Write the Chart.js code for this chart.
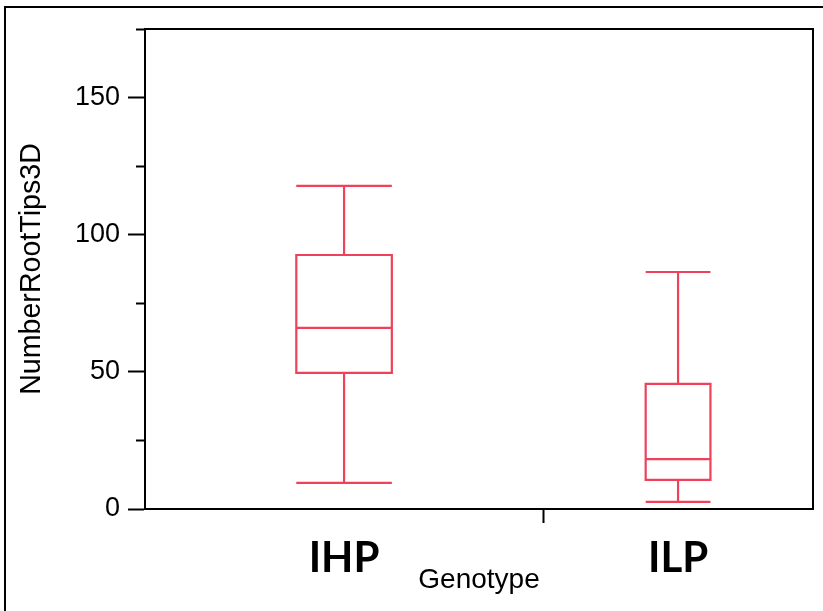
<!DOCTYPE html>
<html>
<head>
<meta charset="utf-8">
<title>NumberRootTips3D by Genotype</title>
<script src="https://cdn.jsdelivr.net/npm/chart.js@4.4.0/dist/chart.umd.min.js"></script>
<style>
  html, body { margin: 0; padding: 0; background: #fff; }
  canvas { display: block; }
</style>
</head>
<body>
<canvas id="boxChart" width="823" height="611"></canvas>
<script>
// box plot data
const genotypes = ['IHP', 'ILP'];
const groupShare = [0.596, 0.404]; // part of the x axis each group gets
const whiskerLow = [9.5, 2.6];
const quartile1 = [49.6, 10.6];
const medians = [66.0, 18.2];
const quartile3 = [92.6, 45.6];
const whiskerHigh = [117.8, 86.4];
const yTickValues = [0, 25, 50, 75, 100, 125, 150, 175];
const yLabelValues = [0, 50, 100, 150];

const boxColor = '#ef4159';
const boxFrac = 0.24;
const helv = 'Liberation Sans, Arial, Helvetica, sans-serif';

// group centres and the divider tick between groups
const groupStart = [];
let acc = 0;
groupShare.forEach(s => { groupStart.push(acc); acc += s; });
const centers = groupShare.map((s, i) => groupStart[i] + s / 2);
const dividers = groupStart.slice(1);
const xTickValues = centers.concat(dividers).sort((a, b) => a - b);

function boxPoints(i) {
  const c = centers[i];
  const half = groupShare[i] * boxFrac / 2;
  const l = c - half, r = c + half;
  const gap = {x: c, y: null};
  return [
    // box
    {x: c, y: quartile1[i]}, {x: r, y: quartile1[i]}, {x: r, y: quartile3[i]},
    {x: l, y: quartile3[i]}, {x: l, y: quartile1[i]}, {x: c, y: quartile1[i]}, gap,
    // median
    {x: l, y: medians[i]}, {x: r, y: medians[i]}, gap,
    // whiskers + caps
    {x: c, y: quartile3[i]}, {x: c, y: whiskerHigh[i]}, gap,
    {x: l, y: whiskerHigh[i]}, {x: r, y: whiskerHigh[i]}, gap,
    {x: c, y: quartile1[i]}, {x: c, y: whiskerLow[i]}, gap,
    {x: l, y: whiskerLow[i]}, {x: r, y: whiskerLow[i]}
  ];
}

const framePlugin = {
  id: 'frame',
  beforeDraw(chart) {
    const ctx = chart.ctx;
    ctx.save();
    ctx.fillStyle = '#fff';
    ctx.fillRect(0, 0, chart.width, chart.height);
    ctx.fillStyle = '#000';
    ctx.fillRect(4, 6, 2, chart.height - 6);
    ctx.fillRect(4, 6, chart.width - 4, 2);
    ctx.restore();
  },
  afterDraw(chart) {
    const {ctx, chartArea: a} = chart;
    ctx.save();
    ctx.strokeStyle = '#000';
    ctx.lineWidth = 2;
    ctx.beginPath();
    ctx.moveTo(a.left, a.top);
    ctx.lineTo(a.right, a.top);
    ctx.lineTo(a.right, a.bottom + 1);
    ctx.stroke();
    ctx.restore();
  }
};

new Chart(document.getElementById('boxChart'), {
  type: 'line',
  data: {
    datasets: genotypes.map((g, i) => ({
      label: g,
      data: boxPoints(i),
      borderColor: boxColor,
      borderWidth: 2.2,
      borderJoinStyle: 'miter',
      pointRadius: 0,
      fill: false,
      tension: 0,
      spanGaps: false
    }))
  },
  options: {
    responsive: false,
    animation: false,
    layout: { padding: {top: 29, right: 10, bottom: 0, left: 0} },
    plugins: { legend: {display: false}, tooltip: {enabled: false} },
    scales: {
      x: {
        type: 'linear',
        min: 0,
        max: 1,
        afterBuildTicks: s => { s.ticks = xTickValues.map(v => ({value: v})); },
        afterFit: s => { s.height = 102; },
        ticks: {
          callback: v => {
            const i = centers.indexOf(v);
            return i >= 0 ? genotypes[i] : '';
          },
          font: {family: 'Lato, Noto Sans, sans-serif', weight: 'bold', size: 42},
          color: '#000',
          padding: 10,
          autoSkip: false,
          maxRotation: 0,
          minRotation: 0
        },
        grid: {
          drawOnChartArea: false,
          tickLength: 14,
          tickWidth: 2,
          tickColor: c => (c.tick && dividers.includes(c.tick.value)) ? '#000' : 'rgba(0,0,0,0)'
        },
        border: {color: '#000', width: 2},
        title: {
          display: true,
          text: 'Genotype',
          color: '#000',
          font: {family: helv, size: 28},
          padding: {top: 0, bottom: 14}
        }
      },
      y: {
        type: 'linear',
        min: 0,
        max: 175,
        afterBuildTicks: s => { s.ticks = yTickValues.map(v => ({value: v})); },
        afterFit: s => { s.width = 145; },
        ticks: {
          callback: v => yLabelValues.includes(v) ? String(v) : '',
          color: '#000',
          font: {family: helv, size: 27},
          padding: 8
        },
        grid: {
          drawOnChartArea: false,
          tickLength: 17,
          tickWidth: 2,
          tickColor: '#000',
          tickBorderDash: c => (c.tick && yLabelValues.includes(c.tick.value)) ? [] : [0, 8, 40, 0]
        },
        border: {color: '#000', width: 2},
        title: {
          display: true,
          text: 'NumberRootTips3D',
          color: '#000',
          font: {family: helv, size: 28.6},
          padding: {top: 15.3, bottom: 0}
        }
      }
    }
  },
  plugins: [framePlugin]
});
</script>
</body>
</html>
